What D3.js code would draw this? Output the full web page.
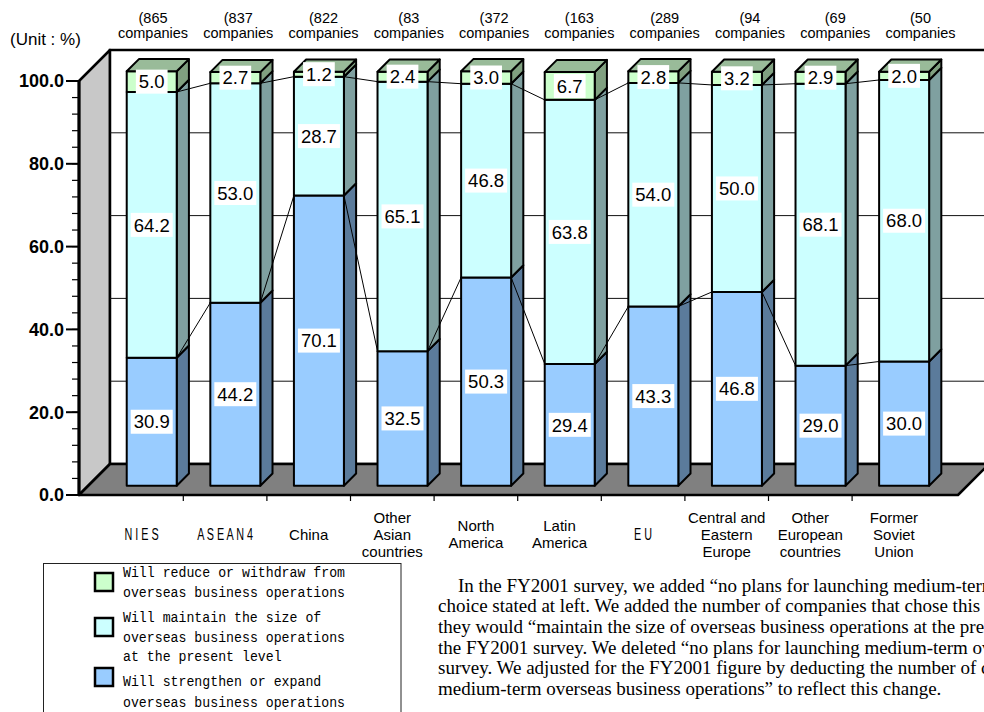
<!DOCTYPE html>
<html>
<head>
<meta charset="utf-8">
<script src="https://cdn.jsdelivr.net/npm/d3@7"></script>
<style>
  body { margin: 0; background: #fff; }
  svg { display: block; }
</style>
</head>
<body>
<svg id="chart" width="984" height="712"></svg>
<script>
// ---- data ----
const categories = ["NIES", "ASEAN4", "China", "Other Asian countries", "North America",
  "Latin America", "EU", "Central and Eastern Europe", "Other European countries", "Former Soviet Union"];
const categoryLines = [["N I E S"], ["A S E A N 4"], ["China"], ["Other", "Asian", "countries"],
  ["North", "America"], ["Latin", "America"], ["E U"], ["Central and", "Eastern", "Europe"],
  ["Other", "European", "countries"], ["Former", "Soviet", "Union"]];
const companyCounts = [865, 837, 822, 83, 372, 163, 289, 94, 69, 50];

const strengthen = [30.9, 44.2, 70.1, 32.5, 50.3, 29.4, 43.3, 46.8, 29.0, 30.0];
const maintain   = [64.2, 53.0, 28.7, 65.1, 46.8, 63.8, 54.0, 50.0, 68.1, 68.0];
const reduce     = [5.0, 2.7, 1.2, 2.4, 3.0, 6.7, 2.8, 3.2, 2.9, 2.0];

const seriesKeys = ["strengthen", "maintain", "reduce"];
const legendLines = [
  ["Will reduce or withdraw from", "overseas business operations"],
  ["Will maintain the size of", "overseas business operations", "at the present level"],
  ["Will strengthen or expand", "overseas business operations"]
];
const yTicks = [0, 20, 40, 60, 80, 100];

// note beside the legend; the page edge cuts its right end
const noteLines = [
  "In the FY2001 survey, we added \u201cno plans for launching medium-term",
  "choice stated at left. We added the number of companies that chose this a",
  "they would \u201cmaintain the size of overseas business operations at the pres",
  "the FY2001 survey. We deleted \u201cno plans for launching medium-term ov",
  "survey. We adjusted for the FY2001 figure by deducting the number of c",
  "medium-term overseas business operations\u201d to reflect this change."
];

// ---- styles ----
const frontFill = { strengthen: "#99ccff", maintain: "#ccffff", reduce: "#ccffcc" };
const sideFill  = { strengthen: "#5b7b9b", maintain: "#7fa0a0", reduce: "#80a080" };
const topFill   = { strengthen: "#7fa3cc", maintain: "#a3cccc", reduce: "#99bb99" };
const SANS = "'Liberation Sans', Arial, sans-serif";
const MONO = "'Liberation Mono', 'DejaVu Sans Mono', monospace";
const SERIF = "'Liberation Serif', 'Times New Roman', serif";

const svg = d3.select("#chart");
svg.append("rect").attr("width", 984).attr("height", 712).attr("fill", "#fff");

// ---- scales and 3D projection ----
const plotLeft = 79, plotRight = 958;
const DEPTH = 31;               // floor depth (45 degree oblique)
const BAR_D0 = 9.3, BAR_D1 = 21.5;
const y = d3.scaleLinear().domain([0, 100]).range([495, 81]);
const x = d3.scaleBand().domain(categories).range([99.7, 935.7]);
const topLabelX = d3.scalePoint().domain(categories).range([153, 920.5]);
const P = (px, v, d) => [px + d, y(v) - d];
const poly = pts => pts.map(p => p.join(",")).join(" ");

const table = categories.map((c, i) => ({
  category: c, strengthen: strengthen[i], maintain: maintain[i], reduce: reduce[i]
}));
const stacked = d3.stack().keys(seriesKeys)(table);

// ---- walls and floor ----
svg.append("polygon") // left wall
  .attr("points", poly([P(plotLeft, 0, 0), P(plotLeft, 100, 0), P(plotLeft, 100, DEPTH), P(plotLeft, 0, DEPTH)]))
  .attr("fill", "#c8c8c8").attr("stroke", "#000").attr("stroke-width", 2.5).attr("stroke-linejoin", "round");
svg.append("polygon") // back wall
  .attr("points", poly([P(plotLeft, 0, DEPTH), P(plotLeft, 100, DEPTH), P(plotRight, 100, DEPTH), P(plotRight, 0, DEPTH)]))
  .attr("fill", "#fff").attr("stroke", "#000").attr("stroke-width", 2.5);
svg.append("g").selectAll("line").data(yTicks.filter(v => v > 0 && v < 100)).join("line")
  .attr("x1", v => P(plotLeft, v, DEPTH)[0]).attr("y1", v => P(plotLeft, v, DEPTH)[1])
  .attr("x2", v => P(plotRight, v, DEPTH)[0]).attr("y2", v => P(plotRight, v, DEPTH)[1])
  .attr("stroke", "#111").attr("stroke-width", 1);
svg.append("polygon") // floor
  .attr("points", poly([P(plotLeft, 0, 0), P(plotRight, 0, 0), P(plotRight, 0, DEPTH), P(plotLeft, 0, DEPTH)]))
  .attr("fill", "#808080").attr("stroke", "#000").attr("stroke-width", 2.5).attr("stroke-linejoin", "round");

// ---- axes ----
const yAxis = svg.append("g");
yAxis.append("line").attr("x1", plotLeft).attr("x2", plotLeft).attr("y1", y(100)).attr("y2", y(0))
  .attr("stroke", "#000").attr("stroke-width", 3);
yAxis.selectAll(".minor").data(d3.range(0, 101, 4)).join("line")
  .attr("x1", plotLeft - 7).attr("x2", plotLeft).attr("y1", d => y(d)).attr("y2", d => y(d))
  .attr("stroke", "#000").attr("stroke-width", 1.2);
yAxis.selectAll(".major").data(yTicks).join("line")
  .attr("x1", plotLeft - 13).attr("x2", plotLeft).attr("y1", d => y(d)).attr("y2", d => y(d))
  .attr("stroke", "#000").attr("stroke-width", 2);
yAxis.selectAll("text").data(yTicks).join("text")
  .attr("x", 64).attr("y", d => y(d)).attr("dy", "0.36em").attr("text-anchor", "end")
  .attr("font-family", SANS).attr("font-weight", "bold").attr("font-size", 18)
  .text(d => d.toFixed(1));

svg.append("text").attr("x", 10).attr("y", 45).attr("font-family", SANS).attr("font-size", 17)
  .text("(Unit : %)");

// category ticks along the front floor edge
svg.append("g").selectAll("line").data(categories.slice(1)).join("line")
  .attr("x1", c => x(c)).attr("x2", c => x(c)).attr("y1", y(0)).attr("y2", y(0) + 6)
  .attr("stroke", "#000").attr("stroke-width", 1.2);

// category labels
const catG = svg.append("g").attr("font-family", SANS).attr("font-size", 15).attr("text-anchor", "middle");
categories.forEach((c, i) => {
  const lines = categoryLines[i];
  const cx = x(c) + x.bandwidth() / 2;
  const first = 539.5 - (lines.length - 1) * 17 / 2;
  lines.forEach((ln, k) => {
    const t = catG.append("text").attr("x", cx).attr("y", first + k * 17).text(ln);
    if (/^(\S )+\S$/.test(ln)) {
      const w = t.node().getComputedTextLength();
      t.attr("font-size", 16).attr("textLength", w * 0.72).attr("lengthAdjust", "spacingAndGlyphs");
    }
  });
});

// company counts above the bars
const cntG = svg.append("g").attr("font-family", SANS).attr("font-size", 14.5).attr("text-anchor", "middle");
categories.forEach((c, i) => {
  cntG.append("text").attr("x", topLabelX(c)).attr("y", 23).text("(" + companyCounts[i]);
  cntG.append("text").attr("x", topLabelX(c)).attr("y", 38).text("companies");
});

// ---- bars ----
const barW = x.bandwidth() * 0.598;
const barX = c => x(c) + x.bandwidth() * 0.212;
const barsG = svg.append("g").attr("stroke", "#000").attr("stroke-width", 2).attr("stroke-linejoin", "round");
categories.forEach((c, i) => {
  const bx = barX(c);
  stacked.forEach((s, si) => {
    const key = s.key;
    const [lo, hi] = s[i];
    barsG.append("polygon")
      .attr("points", poly([P(bx + barW, lo, BAR_D0), P(bx + barW, hi, BAR_D0), P(bx + barW, hi, BAR_D1), P(bx + barW, lo, BAR_D1)]))
      .attr("fill", sideFill[key]);
    barsG.append("polygon")
      .attr("points", poly([P(bx, lo, BAR_D0), P(bx, hi, BAR_D0), P(bx + barW, hi, BAR_D0), P(bx + barW, lo, BAR_D0)]))
      .attr("fill", frontFill[key]);
    if (si === stacked.length - 1) {
      barsG.append("polygon")
        .attr("points", poly([P(bx, hi, BAR_D0), P(bx + barW, hi, BAR_D0), P(bx + barW, hi, BAR_D1), P(bx, hi, BAR_D1)]))
        .attr("fill", topFill[key]);
    }
  });
});

// series lines joining the segment tops of neighbouring bars
const seriesG = svg.append("g").attr("stroke", "#000").attr("stroke-width", 1).attr("fill", "none");
stacked.slice(0, 2).forEach(s => {
  for (let i = 0; i < categories.length - 1; i++) {
    const a = P(barX(categories[i]) + barW, s[i][1], BAR_D0);
    const b = P(barX(categories[i + 1]), s[i + 1][1], BAR_D0);
    seriesG.append("line").attr("x1", a[0]).attr("y1", a[1]).attr("x2", b[0]).attr("y2", b[1]);
  }
});

// value labels
const valG = svg.append("g").attr("font-family", SANS).attr("font-size", 18.5);
categories.forEach((c, i) => {
  const bx = barX(c);
  stacked.forEach(s => {
    const [lo, hi] = s[i];
    const v = s[i].data[s.key];
    const [cx, cy] = P(bx + barW / 2, (lo + hi) / 2, BAR_D0);
    const g = valG.append("g");
    const rect = g.append("rect").attr("fill", "#fff");
    const t = g.append("text").attr("x", cx).attr("y", cy).attr("dy", "0.36em")
      .attr("text-anchor", "middle").text(v.toFixed(1));
    const w = t.node().getComputedTextLength();
    rect.attr("x", cx - w / 2 - 3).attr("y", cy - 12).attr("width", w + 6).attr("height", 24);
  });
});

// ---- legend ----
const legG = svg.append("g");
legG.append("rect").attr("x", 43.5).attr("y", 563.5).attr("width", 357.5).attr("height", 160)
  .attr("fill", "#fff").attr("stroke", "#222").attr("stroke-width", 1);
const legendOrder = ["reduce", "maintain", "strengthen"];
const swatchY = [573, 618, 668];
const textBase = [[577, 597], [622, 642, 661], [686, 707]];
legendOrder.forEach((k, j) => {
  legG.append("rect").attr("x", 95).attr("y", swatchY[j]).attr("width", 18).attr("height", 18)
    .attr("fill", frontFill[k]).attr("stroke", "#000").attr("stroke-width", 2.5);
  legendLines[j].forEach((ln, m) => {
    legG.append("text").attr("x", 123).attr("y", textBase[j][m])
      .attr("font-family", MONO).attr("font-size", 14.5)
      .attr("textLength", ln.length * 7.93).attr("lengthAdjust", "spacingAndGlyphs")
      .text(ln);
  });
});

// ---- note ----
const noteG = svg.append("g").attr("font-family", SERIF).attr("font-size", 19);
noteLines.forEach((ln, k) => {
  noteG.append("text").attr("x", k === 0 ? 458 : 438).attr("y", 591.5 + k * 20.7).text(ln);
});
</script>
</body>
</html>
